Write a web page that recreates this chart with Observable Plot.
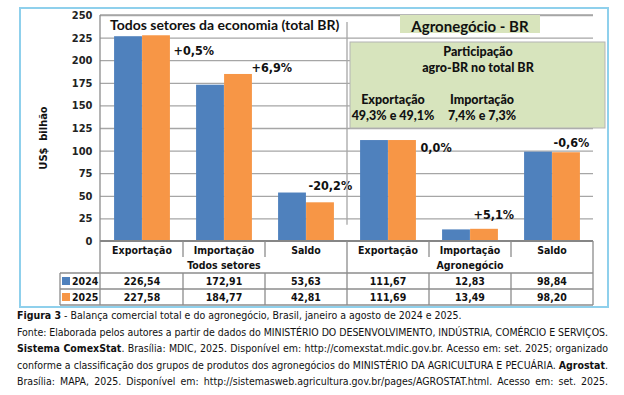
<!DOCTYPE html>
<html><head><meta charset="utf-8">
<script src="https://cdn.jsdelivr.net/npm/d3@7"></script>
<script src="https://cdn.jsdelivr.net/npm/@observablehq/plot@0.6"></script>
<style>
body{margin:0;background:#fff;width:624px;height:395px;overflow:hidden;position:relative;}
#chart{position:absolute;left:0;top:0;}
#caption{position:absolute;left:17px;top:307px;width:591px;font-family:"DejaVu Sans Condensed","DejaVu Sans",sans-serif;font-stretch:condensed;font-size:10.5px;line-height:16.5px;color:#111;}
#caption div{white-space:nowrap;}
#caption div.j{text-align:justify;text-align-last:justify;}
</style></head><body>
<div id="chart"></div>
<div id="caption">
<div><b>Figura 3</b> - Balança comercial total e do agronegócio, Brasil, janeiro a agosto de 2024 e 2025.</div>
<div class="j">Fonte: Elaborada pelos autores a partir de dados do MINISTÉRIO DO DESENVOLVIMENTO, INDÚSTRIA, COMÉRCIO E SERVIÇOS.</div>
<div class="j"><b>Sistema ComexStat</b>. Brasília: MDIC, 2025. Disponível em: http://comexstat.mdic.gov.br. Acesso em: set. 2025; organizado</div>
<div class="j">conforme a classificação dos grupos de produtos dos agronegócios do MINISTÉRIO DA AGRICULTURA E PECUÁRIA. <b>Agrostat</b>.</div>
<div class="j">Brasília: MAPA, 2025. Disponível em: http://sistemasweb.agricultura.gov.br/pages/AGROSTAT.html. Acesso em: set. 2025.</div>
</div>
<script>
// ---- data ----
const categories = ["Exportação", "Importação", "Saldo"];
const groups = ["Todos setores", "Agronegócio"];
const years = ["2024", "2025"];
const values2024 = [226.54, 172.91, 53.63, 111.67, 12.83, 98.84];
const values2025 = [227.58, 184.77, 42.81, 111.69, 13.49, 98.20];
const changes = ["+0,5%", "+6,9%", "-20,2%", "0,0%", "+5,1%", "-0,6%"];
const yTicks = [0, 25, 50, 75, 100, 125, 150, 175, 200, 225, 250];
const yLabel = "US$  bilhão";
const titleTotal = "Todos setores da economia (total BR)";
const titleAgro = "Agronegócio - BR";
const shareLines = ["Participação", "agro-BR no total BR"];
const shareHeads = ["Exportação", "Importação"];
const shareValues = ["49,3% e 49,1%", "7,4% e 7,3%"];

// label placement (layout only): [dx from band centre, dy from bar top]
const labelOffsets = [[31, 15], [27, -6], [2, -17], [32, 7], [3, -14], [1, -10]];

// ---- derived ----
const keys = groups.flatMap(g => categories.map(c => g + "|" + c));
const rows = keys.map((k, i) => ({key: k, cat: k.split("|")[1], group: k.split("|")[0], v24: values2024[i], v25: values2025[i], change: changes[i]}));
const fmt = v => v.toFixed(2).replace(".", ",");

const BLUE = "#4f81bd", ORANGE = "#f79646", GRID = "#a6a6a6", LINE = "#8c8c8c";
const FONT_T = "'DejaVu Sans Condensed','DejaVu Sans',sans-serif";
const FONT_C = "Lato, 'Open Sans', sans-serif";

const W = 624, H = 309;
const margin = {top: 15, right: 31, bottom: 68, left: 100};
const bw = (W - margin.left - margin.right) / keys.length;

const plot = Plot.plot({
  width: W, height: H,
  marginTop: margin.top, marginRight: margin.right, marginBottom: margin.bottom, marginLeft: margin.left,
  style: {fontFamily: FONT_T, background: "#fff", overflow: "visible"},
  x: {domain: keys, padding: 0, axis: null},
  y: {domain: [0, 250], axis: null},
  marks: [
    Plot.gridY(yTicks.filter(d => d > 0), {stroke: GRID, strokeOpacity: 1, strokeWidth: 1.3}),
    Plot.barY(rows, {x: "key", y: "v24", fill: BLUE, insetLeft: bw / 2 - 28, insetRight: bw / 2}),
    Plot.barY(rows, {x: "key", y: "v25", fill: ORANGE, insetLeft: bw / 2, insetRight: bw / 2 - 28}),
    Plot.axisY({ticks: yTicks, tickSize: 0, tickPadding: 8, fontWeight: "bold", fontSize: 11, fill: "#222", label: null}),
    ...rows.map((r, i) => Plot.text([r], {x: "key", y: "v25", text: "change", textAnchor: "start",
      dx: labelOffsets[i][0], dy: labelOffsets[i][1], fontWeight: "bold", fontSize: 12.5, fontFamily: FONT_T, fill: "#111"}))
  ]
});
document.getElementById("chart").appendChild(plot);

// ---- decorations & table drawn with the plot's own scales ----
const svg = d3.select(plot);
const xs = plot.scale("x"), ys = plot.scale("y");
const X0 = k => xs.apply(k), band = xs.bandwidth;
const left = margin.left, right = W - margin.right;
const y0 = ys.apply(0), yTop = ys.apply(250);
const rowH = 16;
const rCat = y0 + rowH, rGrp = rCat + rowH, r24 = rGrp + rowH, r25 = r24 + rowH;
const legX = 60;

const g = svg.append("g");
// y-axis title
g.append("text").attr("transform", `translate(43,${(y0 + yTop) / 2 + 10}) rotate(-90)`).attr("text-anchor", "middle")
  .attr("dy", "0.35em").attr("font-family", FONT_T).attr("font-weight", "bold").attr("font-size", 11).attr("fill", "#111")
  .attr("xml:space", "preserve").style("white-space", "pre").text(yLabel);
// outer frame
g.append("rect").attr("x", 20).attr("y", 8).attr("width", 588).attr("height", 299)
  .attr("fill", "none").attr("stroke", "#8fd0ec").attr("stroke-width", 2);

const line = (x1, y1, x2, y2, w = 1.3, c = LINE) => g.append("line").attr("x1", x1).attr("y1", y1).attr("x2", x2).attr("y2", y2).attr("stroke", c).attr("stroke-width", w);
// top border line at 250
line(left, yTop, right, yTop, 1.3, GRID);
// left axis line
line(left, yTop, left, r25);
// section separator
const agroStart = X0(keys[3]);
line(agroStart, yTop + 7, agroStart, ys.apply(18), 1.3, GRID);

// title texts
g.append("text").attr("x", left + 10).attr("y", yTop + 10).attr("dy", "0.35em").attr("text-anchor", "start")
  .attr("font-family", FONT_C).attr("font-weight", "bold").attr("font-size", 14).attr("fill", "#111").text(titleTotal);
g.append("rect").attr("x", 400).attr("y", yTop).attr("width", 140).attr("height", 18).attr("fill", "#d8e4bc");
g.append("text").attr("x", 470).attr("y", yTop + 12).attr("dy", "0.35em").attr("text-anchor", "middle")
  .attr("font-family", FONT_C).attr("font-weight", "bold").attr("font-size", 15).attr("fill", "#111").text(titleAgro);
// share box
g.append("rect").attr("x", agroStart + 3).attr("y", 42).attr("width", 255).attr("height", 86)
  .attr("fill", "#d7e4bd").attr("stroke", "#b4b4b4").attr("stroke-width", 1);
shareLines.forEach((t, i) => g.append("text").attr("x", 478).attr("y", 52 + i * 16).attr("dy", "0.35em").attr("text-anchor", "middle")
  .attr("font-family", FONT_C).attr("font-weight", "900").attr("font-size", 12.5).attr("fill", "#111").text(t));
[393, 482].forEach((cx, i) => {
  g.append("text").attr("x", cx).attr("y", 100).attr("dy", "0.35em").attr("text-anchor", "middle")
    .attr("font-family", FONT_C).attr("font-weight", "900").attr("font-size", 12.5).attr("fill", "#111").text(shareHeads[i]);
  g.append("text").attr("x", cx).attr("y", 116).attr("dy", "0.35em").attr("text-anchor", "middle")
    .attr("font-family", FONT_C).attr("font-weight", "900").attr("font-size", 12.5).attr("fill", "#111").text(shareValues[i]);
});

// table lines
line(left, y0, right, y0, 2, "#868686");
line(legX, rGrp, right, rGrp);
line(legX, r24, right, r24);
line(legX, r25, right, r25);
line(legX, rGrp, legX, r25);
line(right, y0, right, r25);
keys.forEach((k, i) => {
  if (i === 0) return;
  const x = X0(k);
  if (i === 3) line(x, y0, x, r25);
  else { line(x, y0, x, rCat); line(x, rGrp, x, r25); }
});
// table text
const tt = (x, y, t, anchor = "middle") => g.append("text").attr("x", x).attr("y", y).attr("dy", "0.35em").attr("text-anchor", anchor)
  .attr("font-family", FONT_T).attr("font-weight", "bold").attr("font-size", 10.5).attr("fill", "#111").text(t);
rows.forEach(r => {
  const cx = X0(r.key) + band / 2;
  tt(cx, y0 + rowH / 2 + 1, r.cat);
  tt(cx, rGrp + rowH / 2, fmt(r.v24));
  tt(cx, r24 + rowH / 2, fmt(r.v25));
});
groups.forEach((gr, j) => {
  const a = X0(keys[j * 3]), b = X0(keys[j * 3 + 2]) + band;
  tt((a + b) / 2, rCat + rowH / 2, gr);
});
years.forEach((yr, j) => {
  const yy = rGrp + j * rowH;
  g.append("rect").attr("x", legX + 2).attr("y", yy + 4).attr("width", 8).attr("height", 8).attr("fill", j ? ORANGE : BLUE);
  tt(legX + 12, yy + rowH / 2, yr, "start");
});

// fit justified caption lines into the caption width
const capW = 591;
document.querySelectorAll("#caption div.j").forEach(div => {
  const span = document.createElement("span");
  span.innerHTML = div.innerHTML;
  span.style.whiteSpace = "nowrap";
  div.innerHTML = "";
  div.appendChild(span);
  const w = span.getBoundingClientRect().width;
  const n = span.textContent.length;
  if (w > capW) {
    span.style.letterSpacing = ((capW - w) / n) + "px";
  }
  const w2 = span.getBoundingClientRect().width;
  const spaces = (span.textContent.match(/ /g) || []).length;
  if (w2 < capW && spaces) span.style.wordSpacing = ((capW - w2) / spaces) + "px";
});
</script>
</body></html>
